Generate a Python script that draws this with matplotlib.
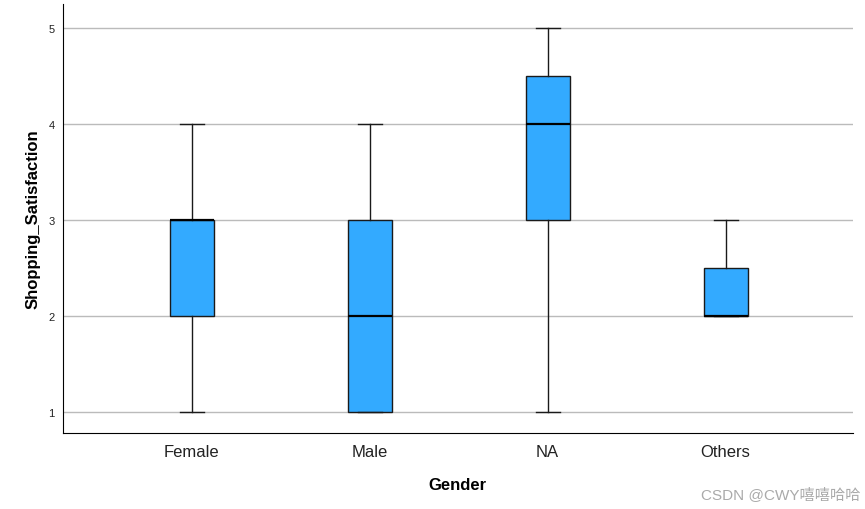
import matplotlib
matplotlib.use("Agg")
import matplotlib.pyplot as plt

# boxplot summary values
genders = ["Female", "Male", "NA", "Others"]
q1 = [2, 1, 3, 2]
med = [3, 2, 4, 2]
q3 = [3, 3, 4.5, 2.5]
whislo = [1, 1, 1, 2]
whishi = [4, 4, 5, 3]

plt.rcParams['font.family'] = ['Liberation Sans', 'DejaVu Sans']

fig = plt.figure(figsize=(8.65, 5.10), dpi=100)
ax = fig.add_axes([0.0728, 0.149, 0.913, 0.841])

stats = []
for i in range(len(genders)):
    stats.append({"label": genders[i], "q1": q1[i], "med": med[i], "q3": q3[i],
                  "whislo": whislo[i], "whishi": whishi[i], "fliers": []})

ax.bxp(stats, positions=range(len(genders)), widths=0.247, patch_artist=True,
       showfliers=False,
       boxprops=dict(facecolor="#33AAFF", edgecolor="#1a1a1a", linewidth=1.0),
       medianprops=dict(color="black", linewidth=1.6),
       whiskerprops=dict(color="#1a1a1a", linewidth=1.0),
       capprops=dict(color="#1a1a1a", linewidth=1.0),
       capwidths=0.135, zorder=3)

ax.set_xlim(-0.725, 3.715)
ax.set_ylim(0.78, 5.25)
ax.set_yticks([1, 2, 3, 4, 5])
ax.yaxis.grid(True, color="#BBBBBB", linewidth=1.0, zorder=0)
ax.set_axisbelow(True)
for s in ["top", "right"]:
    ax.spines[s].set_visible(False)
ax.spines["left"].set_color("black")
ax.spines["bottom"].set_color("black")
ax.tick_params(axis="both", length=0)
ax.tick_params(axis="x", labelsize=12, pad=8, colors="#222222")
ax.tick_params(axis="y", labelsize=8, pad=6, colors="#222222")
ax.set_xticklabels(genders)

ax.set_xlabel("Gender", fontsize=12, fontweight="bold", labelpad=13)
ax.set_ylabel("Shopping_Satisfaction", fontsize=12, fontweight="bold", labelpad=6)

fig.text(0.995, 0.031, "CSDN @CWY嘻嘻哈哈", ha="right", va="center", fontsize=11,
         color="#AAAAAA", family=["Liberation Sans", "Noto Sans CJK SC"])

fig.savefig("out.png", dpi=100)
